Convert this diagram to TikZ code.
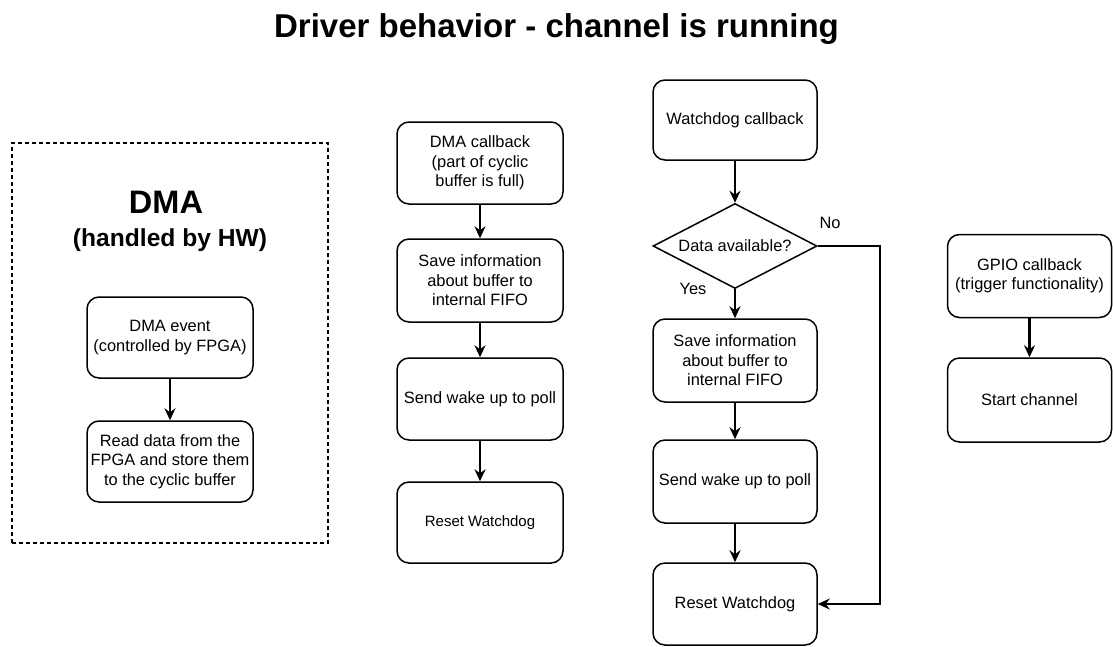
\documentclass[tikz,border=0pt]{standalone}
\usepackage{fontspec}
\setmainfont{Liberation Sans}
\usetikzlibrary{arrows.meta,shapes.geometric}

\newcommand{\bodysize}{\fontsize{16.4}{19.5}\selectfont}

\begin{document}
\begin{tikzpicture}[x=1pt,y=-1pt,
  box/.style={draw, line width=1.5pt, rounded corners=12pt, minimum width=166pt,
              inner sep=0pt, align=center, font=\bodysize},
  narrowbox/.style={box, minimum width=164pt},
  decision/.style={draw, line width=1.5pt, diamond, aspect=1.93, inner sep=0pt,
                   minimum width=164pt, minimum height=85pt, font=\bodysize},
  hwframe/.style={draw, line width=1.4pt, dash pattern=on 4pt off 3pt,
                  minimum width=316pt, minimum height=400pt},
  flow/.style={line width=2.1pt, -{Stealth[length=12pt,width=11pt,inset=4pt]}},
  branch/.style={line width=1.6pt, -{Stealth[length=12pt,width=11pt,inset=4pt]}},
  lbl/.style={font=\bodysize, inner sep=0pt}
]
\useasboundingbox (0,0) rectangle (1113,646);

% title
\node[anchor=base, inner sep=0pt, font=\bfseries\fontsize{33}{40}\selectfont] (title)
  at (556.5,37) {Driver behavior - channel is running};

% hardware-driven DMA part
\node[hwframe] (frame) at (170,343) {};
\node[inner sep=0pt, font=\bfseries\fontsize{32.5}{38}\selectfont] (dmahead) at (166,202) {DMA};
\node[inner sep=0pt, font=\bfseries\fontsize{24.6}{30}\selectfont] (hwnote) at (170,240) {(handled by HW)};
\node[box, minimum height=81pt] (dmaevt) at (170,337.5) {DMA event\\(controlled by FPGA)};
\node[box, minimum height=81pt] (readdata) at (170,461.5) {Read data from the\\FPGA and store them\\to the cyclic buffer};
\draw[flow] (dmaevt.south) -- (readdata.north);

% DMA callback path
\node[box, minimum height=82pt] (dmacb) at (480,163) {DMA callback\\(part of cyclic\\buffer is full)};
\node[box, minimum height=83pt] (saveA) at (480,280.5) {Save information\\about buffer to\\internal FIFO};
\node[box, minimum height=82pt] (wakeA) at (480,399) {Send wake up to poll};
\node[box, minimum height=81pt, font=\fontsize{15}{18}\selectfont] (resetA) at (480,522.5) {Reset Watchdog};
\draw[flow] (dmacb.south) -- (saveA.north);
\draw[flow] (saveA.south) -- (wakeA.north);
\draw[flow] (wakeA.south) -- (resetA.north);

% watchdog callback path
\node[narrowbox, minimum height=80pt] (wdcb) at (735,120) {Watchdog callback};
\node[decision] (avail) at (735,246) {Data available?};
\node[narrowbox, minimum height=83pt] (saveB) at (735,360.5) {Save information\\about buffer to\\internal FIFO};
\node[narrowbox, minimum height=83pt] (wakeB) at (735,481.5) {Send wake up to poll};
\node[narrowbox, minimum height=82pt] (resetB) at (735,604) {Reset Watchdog};
\draw[flow] (wdcb.south) -- (avail.north);
\draw[flow] (avail.south) -- (saveB.north);
\draw[flow] (saveB.south) -- (wakeB.north);
\draw[flow] (wakeB.south) -- (resetB.north);
\coordinate (noTop) at (880,246);
\coordinate (noBottom) at (880,604);
\draw[branch] (avail.east) -- (noTop) -- (noBottom) -- (resetB.east);
\node[lbl] (yes) at (693,289) {Yes};
\node[lbl] (no) at (830,223) {No};

% GPIO callback path
\node[narrowbox, minimum height=83pt] (gpio) at (1029.5,276) {GPIO callback\\(trigger functionality)};
\node[narrowbox, minimum height=84pt] (start) at (1029.5,400) {Start channel};
\draw[flow] (gpio.south) -- (start.north);
\end{tikzpicture}
\end{document}
